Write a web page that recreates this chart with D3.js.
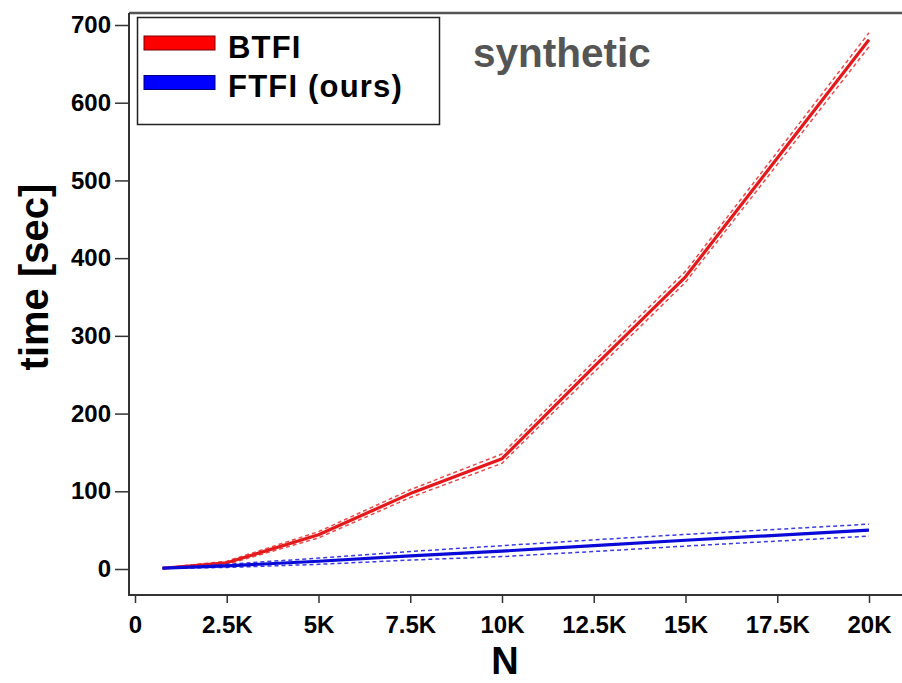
<!DOCTYPE html>
<html><head><meta charset="utf-8">
<script src="https://cdn.jsdelivr.net/npm/d3@7"></script>
<style>body{margin:0;background:#fff}svg{display:block}text{font-family:"Liberation Sans",Arial,sans-serif;font-weight:bold}</style>
</head><body><svg id="c" width="902" height="683"></svg>
<script>
const N = [750, 2500, 5000, 7500, 10000, 12500, 15000, 20000];
const btfi = [1, 8, 44, 97, 142, 260, 376, 681];
const btfiStd = [0.5, 2, 4, 5, 6, 7, 7, 9];
const ftfi = [1, 4, 10, 17, 23, 30, 37, 50];
const ftfiStd = [0.3, 2, 4, 5.5, 7, 7.5, 7.5, 7.7];
const xTicks = [0, 2500, 5000, 7500, 10000, 12500, 15000, 17500, 20000];
const xTickLabels = ["0", "2.5K", "5K", "7.5K", "10K", "12.5K", "15K", "17.5K", "20K"];
const yTicks = [0, 100, 200, 300, 400, 500, 600, 700];
const seriesNames = ["BTFI", "FTFI (ours)"];

const svg = d3.select("#c");
const x = d3.scaleLinear().domain([0, 20000]).range([135, 869]);
const y = d3.scaleLinear().domain([0, 700]).range([569, 25]);
const axisColor = "#333";

// frame
svg.append("line").attr("x1",129).attr("x2",902).attr("y1",13).attr("y2",13).attr("stroke","#555").attr("stroke-width",2.5);

// y axis
const ya = svg.append("g").attr("transform","translate(129,0)")
  .call(d3.axisLeft(y).tickValues(yTicks).tickSize(14).tickPadding(4).tickFormat(d3.format("d")));
ya.select(".domain").remove();
ya.append("line").attr("x1",0).attr("x2",0).attr("y1",13).attr("y2",596).attr("stroke",axisColor).attr("stroke-width",2);
ya.selectAll(".tick line").attr("stroke",axisColor).attr("stroke-width",1.5);
ya.selectAll(".tick text").attr("font-size",24).attr("fill","#000").attr("font-family","Liberation Sans, Arial").attr("font-weight","bold");

// x axis
const xa = svg.append("g").attr("transform","translate(0,595)")
  .call(d3.axisBottom(x).tickValues(xTicks).tickSize(8).tickPadding(13).tickFormat((d,i)=>xTickLabels[i]));
xa.select(".domain").remove();
xa.append("line").attr("x1",128).attr("x2",902).attr("y1",0).attr("y2",0).attr("stroke",axisColor).attr("stroke-width",2);
xa.selectAll(".tick line").attr("stroke",axisColor).attr("stroke-width",1.5);
xa.selectAll(".tick text").attr("font-size",24).attr("fill","#000").attr("font-family","Liberation Sans, Arial").attr("font-weight","bold");

// titles
svg.append("text").attr("x",505).attr("y",674).attr("text-anchor","middle").attr("font-size",38).attr("fill","#000").text("N");
svg.append("text").attr("transform","translate(48,277) rotate(-90)").attr("text-anchor","middle").attr("font-size",40).attr("fill","#000").text("time [sec]");
svg.append("text").attr("x",473).attr("y",67).attr("font-size",40.5).attr("fill","#555").text("synthetic");

const series = [
  {v: btfi, s: btfiStd, color: "#e3191b", dash: "#ee4a4c"},
  {v: ftfi, s: ftfiStd, color: "#0a0ad8", dash: "#3a3ae6"}
];
const line = d3.line().x(d=>x(d[0])).y(d=>y(d[1]));
series.forEach(S => {
  const mid = N.map((n,i)=>[n, S.v[i]]);
  const up = N.map((n,i)=>[n, S.v[i]+S.s[i]]);
  const lo = N.map((n,i)=>[n, S.v[i]-S.s[i]]);
  [up, lo].forEach(p => svg.append("path").attr("d", line(p)).attr("fill","none")
    .attr("stroke", S.dash).attr("stroke-width",1.5).attr("stroke-dasharray","4,3"));
  svg.append("path").attr("d", line(mid)).attr("fill","none").attr("stroke", S.color).attr("stroke-width",3.2).attr("stroke-linejoin","round");
});

// legend
svg.append("rect").attr("x",137.5).attr("y",17.5).attr("width",302).attr("height",107).attr("fill","#fff").attr("stroke","#222").attr("stroke-width",1.5);
const legColors = [["#ff0000","#7a0000"],["#0000ff","#00007a"]];
seriesNames.forEach((name,i) => {
  const yy = 36 + i*39.5;
  svg.append("rect").attr("x",144).attr("y",yy).attr("width",71).attr("height",14).attr("fill",legColors[i][0]).attr("stroke",legColors[i][1]).attr("stroke-width",1);
  svg.append("text").attr("x",228).attr("y",yy+21.5).attr("font-size",31).attr("letter-spacing",1.2).attr("fill","#000").text(name);
});
</script></body></html>
